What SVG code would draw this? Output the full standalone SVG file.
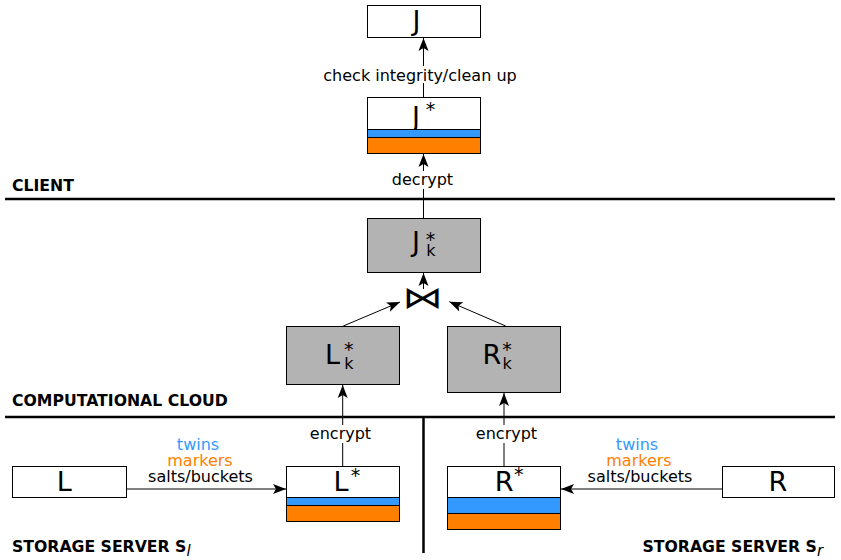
<svg xmlns="http://www.w3.org/2000/svg" width="841" height="560" viewBox="0 0 841 560">
<style>
.box{fill:#fff;stroke:#000;stroke-width:1}
.gbox{fill:#b3b3b3;stroke:#000;stroke-width:1}
.blue{fill:#3399ff;stroke:#000;stroke-width:1}
.orange{fill:#ff8000;stroke:#000;stroke-width:1}
.big{font-family:"DejaVu Sans",sans-serif;font-size:27px;fill:#000}
.scr{font-size:19px}
.sub{font-size:16px}
.lbl{font-family:"DejaVu Sans",sans-serif;font-size:16px;fill:#000}
.hdr{font-family:"DejaVu Sans",sans-serif;font-size:15.7px;font-weight:bold;fill:#000}
.conn{stroke:#000;stroke-width:1;fill:none}
.sep{stroke:#000;stroke-width:2.5;fill:none}
</style>
<defs>
<marker id="ah" markerUnits="userSpaceOnUse" markerWidth="14" markerHeight="11" refX="13" refY="5" orient="auto" viewBox="0 0 14 10">
<path d="M0,0 L13,5 L0,10 L3,5 z" fill="#000"/>
</marker>
</defs>

<g id="separators">
<line class="sep" x1="5" y1="199" x2="835" y2="199"/>
<line class="sep" x1="5" y1="417" x2="835" y2="417"/>
<line class="sep" x1="423.5" y1="417" x2="423.5" y2="553"/>
</g>

<g id="headers">
<text class="hdr" x="12" y="191">CLIENT</text>
<text class="hdr" x="12" y="406">COMPUTATIONAL CLOUD</text>
<text class="hdr" x="12" y="551.5">STORAGE SERVER S<tspan font-weight="normal" font-style="italic" font-size="15" dy="4.5">l</tspan></text>
<text class="hdr" x="642.5" y="551.5">STORAGE SERVER S<tspan font-weight="normal" font-style="italic" font-size="15" dy="4.5">r</tspan></text>
</g>

<g id="connectors">
<line class="conn" x1="423.5" y1="97" x2="423.5" y2="38" marker-end="url(#ah)"/>
<line class="conn" x1="423.5" y1="218" x2="423.5" y2="154" marker-end="url(#ah)"/>
<line class="conn" x1="423.5" y1="289" x2="423.5" y2="273" marker-end="url(#ah)"/>
<line class="conn" x1="343.3" y1="326" x2="400" y2="302" marker-end="url(#ah)"/>
<line class="conn" x1="505.7" y1="326" x2="449.3" y2="301.7" marker-end="url(#ah)"/>
<line class="conn" x1="342.7" y1="466" x2="342.7" y2="385" marker-end="url(#ah)"/>
<line class="conn" x1="504" y1="466" x2="504" y2="393" marker-end="url(#ah)"/>
<line class="conn" x1="126.7" y1="489" x2="286" y2="489" marker-end="url(#ah)"/>
<line class="conn" x1="722" y1="489" x2="561" y2="489" marker-end="url(#ah)"/>
<rect x="320" y="66" width="202" height="17" fill="#fff"/>
<text class="lbl" x="420" y="80.5" text-anchor="middle">check integrity/clean up</text>
<rect x="390" y="171" width="64" height="18" fill="#fff"/>
<text class="lbl" x="422.5" y="185" text-anchor="middle">decrypt</text>
<rect x="308" y="425" width="66" height="18" fill="#fff"/>
<text class="lbl" x="340.5" y="439" text-anchor="middle">encrypt</text>
<rect x="474" y="425" width="66" height="18" fill="#fff"/>
<text class="lbl" x="506.5" y="439" text-anchor="middle">encrypt</text>
<text class="lbl" x="198" y="450" text-anchor="middle" style="fill:#3399ff">twins</text>
<text class="lbl" x="200" y="466" text-anchor="middle" style="fill:#ff8000">markers</text>
<text class="lbl" x="200.5" y="482" text-anchor="middle">salts/buckets</text>
<text class="lbl" x="637" y="450" text-anchor="middle" style="fill:#3399ff">twins</text>
<text class="lbl" x="639" y="466" text-anchor="middle" style="fill:#ff8000">markers</text>
<text class="lbl" x="640" y="482" text-anchor="middle">salts/buckets</text>
</g>

<g id="node-J">
<rect class="box" x="367.5" y="5.5" width="113" height="32"/>
<text class="big" x="412.5" y="29.7">J</text>
</g>

<g id="node-Jstar">
<rect class="box" x="367.5" y="97.5" width="113" height="32"/>
<text class="big" x="412" y="125.7">J<tspan class="scr" x="425.7" y="116">*</tspan></text>
<rect class="blue" x="367.5" y="129.5" width="113" height="8"/>
<rect class="orange" x="367.5" y="137.5" width="113" height="16"/>
</g>

<g id="node-Jk">
<rect class="gbox" x="367.5" y="218.5" width="113" height="54"/>
<text class="big" x="412" y="250.7">J<tspan class="scr" x="425.7" y="245.5">*</tspan><tspan class="sub" x="426.2" y="256.3">k</tspan></text>
</g>

<g id="join">
<text transform="translate(422.5,298) scale(1.12,0.85) translate(-422.5,-298)" x="422.5" y="310" text-anchor="middle" font-family="DejaVu Sans, sans-serif" font-size="36">⋈</text>
</g>

<g id="node-Lk">
<rect class="gbox" x="286.5" y="326.5" width="113" height="58"/>
<text class="big" x="325" y="364">L<tspan class="scr" x="344" y="356">*</tspan><tspan class="sub" x="344.2" y="369.3">k</tspan></text>
</g>

<g id="node-Rk">
<rect class="gbox" x="447.5" y="326.5" width="113" height="66"/>
<text class="big" x="482.4" y="364">R<tspan class="scr" x="502.3" y="356">*</tspan><tspan class="sub" x="502.5" y="369.3">k</tspan></text>
</g>

<g id="node-L">
<rect class="box" x="12.5" y="466.5" width="114" height="31"/>
<text class="big" x="56.7" y="490.5">L</text>
</g>

<g id="node-Lstar">
<rect class="box" x="286.5" y="466.5" width="113" height="31"/>
<text class="big" x="333.4" y="491">L<tspan class="scr" x="350.7" y="482.4">*</tspan></text>
<rect class="blue" x="286.5" y="497.5" width="113" height="8"/>
<rect class="orange" x="286.5" y="505.5" width="113" height="16"/>
</g>

<g id="node-Rstar">
<rect class="box" x="447.5" y="466.5" width="113" height="31"/>
<text class="big" x="494.7" y="491">R<tspan class="scr" x="514" y="481.4">*</tspan></text>
<rect class="blue" x="447.5" y="497.5" width="113" height="16"/>
<rect class="orange" x="447.5" y="513.5" width="113" height="16"/>
</g>

<g id="node-R">
<rect class="box" x="722.5" y="466.5" width="112" height="31"/>
<text class="big" x="768.4" y="490.5">R</text>
</g>
</svg>
